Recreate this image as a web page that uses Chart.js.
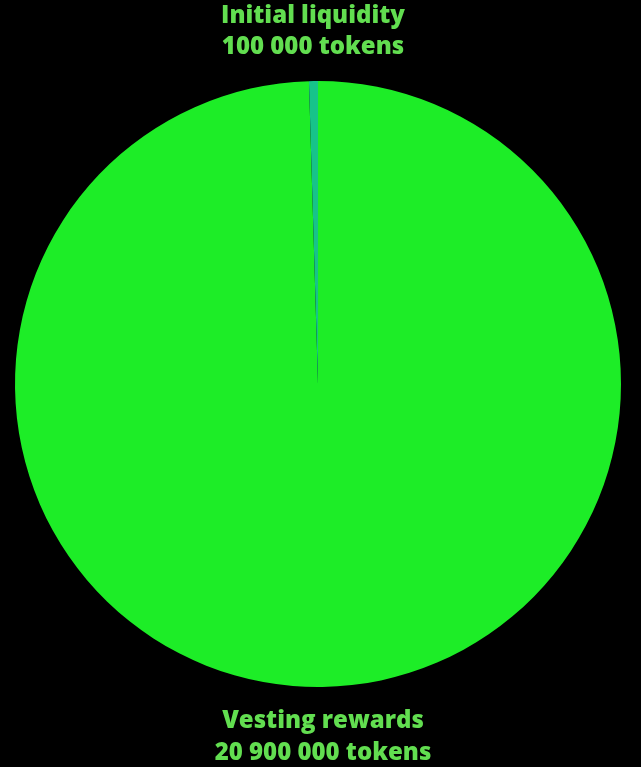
<!DOCTYPE html>
<html><head><meta charset="utf-8">
<script src="https://cdn.jsdelivr.net/npm/chart.js@4/dist/chart.umd.min.js"></script>
<style>html,body{margin:0;padding:0;background:#000;}#wrap{width:641px;height:767px;}</style>
</head><body><div id="wrap"><canvas id="c" width="641" height="767"></canvas></div>
<script>
const categories = ["Vesting rewards", "Initial liquidity"];
const tokenValues = [20900000, 100000];
const valueLabels = ["20 900 000 tokens", "100 000 tokens"];
const sliceColors = ["#1ded27", "#17c38a"];

const labelPlugin = {
  id: 'outerLabels',
  afterDraw(chart) {
    const ctx = chart.ctx;
    const a = chart.chartArea;
    const cx = (a.left + a.right) / 2;
    ctx.save();
    ctx.fillStyle = '#62de50';
    ctx.font = '800 24px "Open Sans"';
    ctx.textAlign = 'center';
    ctx.textBaseline = 'alphabetic';
    ctx.fillText(categories[1], cx - 5, 23);
    ctx.fillText(valueLabels[1], cx - 5, 54);
    ctx.fillText(categories[0], cx + 5, 728);
    ctx.fillText(valueLabels[0], cx + 5, 760);
    ctx.restore();
  }
};

new Chart(document.getElementById('c'), {
  type: 'pie',
  data: { labels: categories, datasets: [{ data: tokenValues, backgroundColor: sliceColors, borderWidth: 0 }] },
  options: {
    responsive: false, animation: false,
    layout: { padding: { top: 81, bottom: 80, left: 15, right: 20 } },
    plugins: { legend: { display: false }, tooltip: { enabled: false } }
  },
  plugins: [labelPlugin]
});
</script></body></html>
